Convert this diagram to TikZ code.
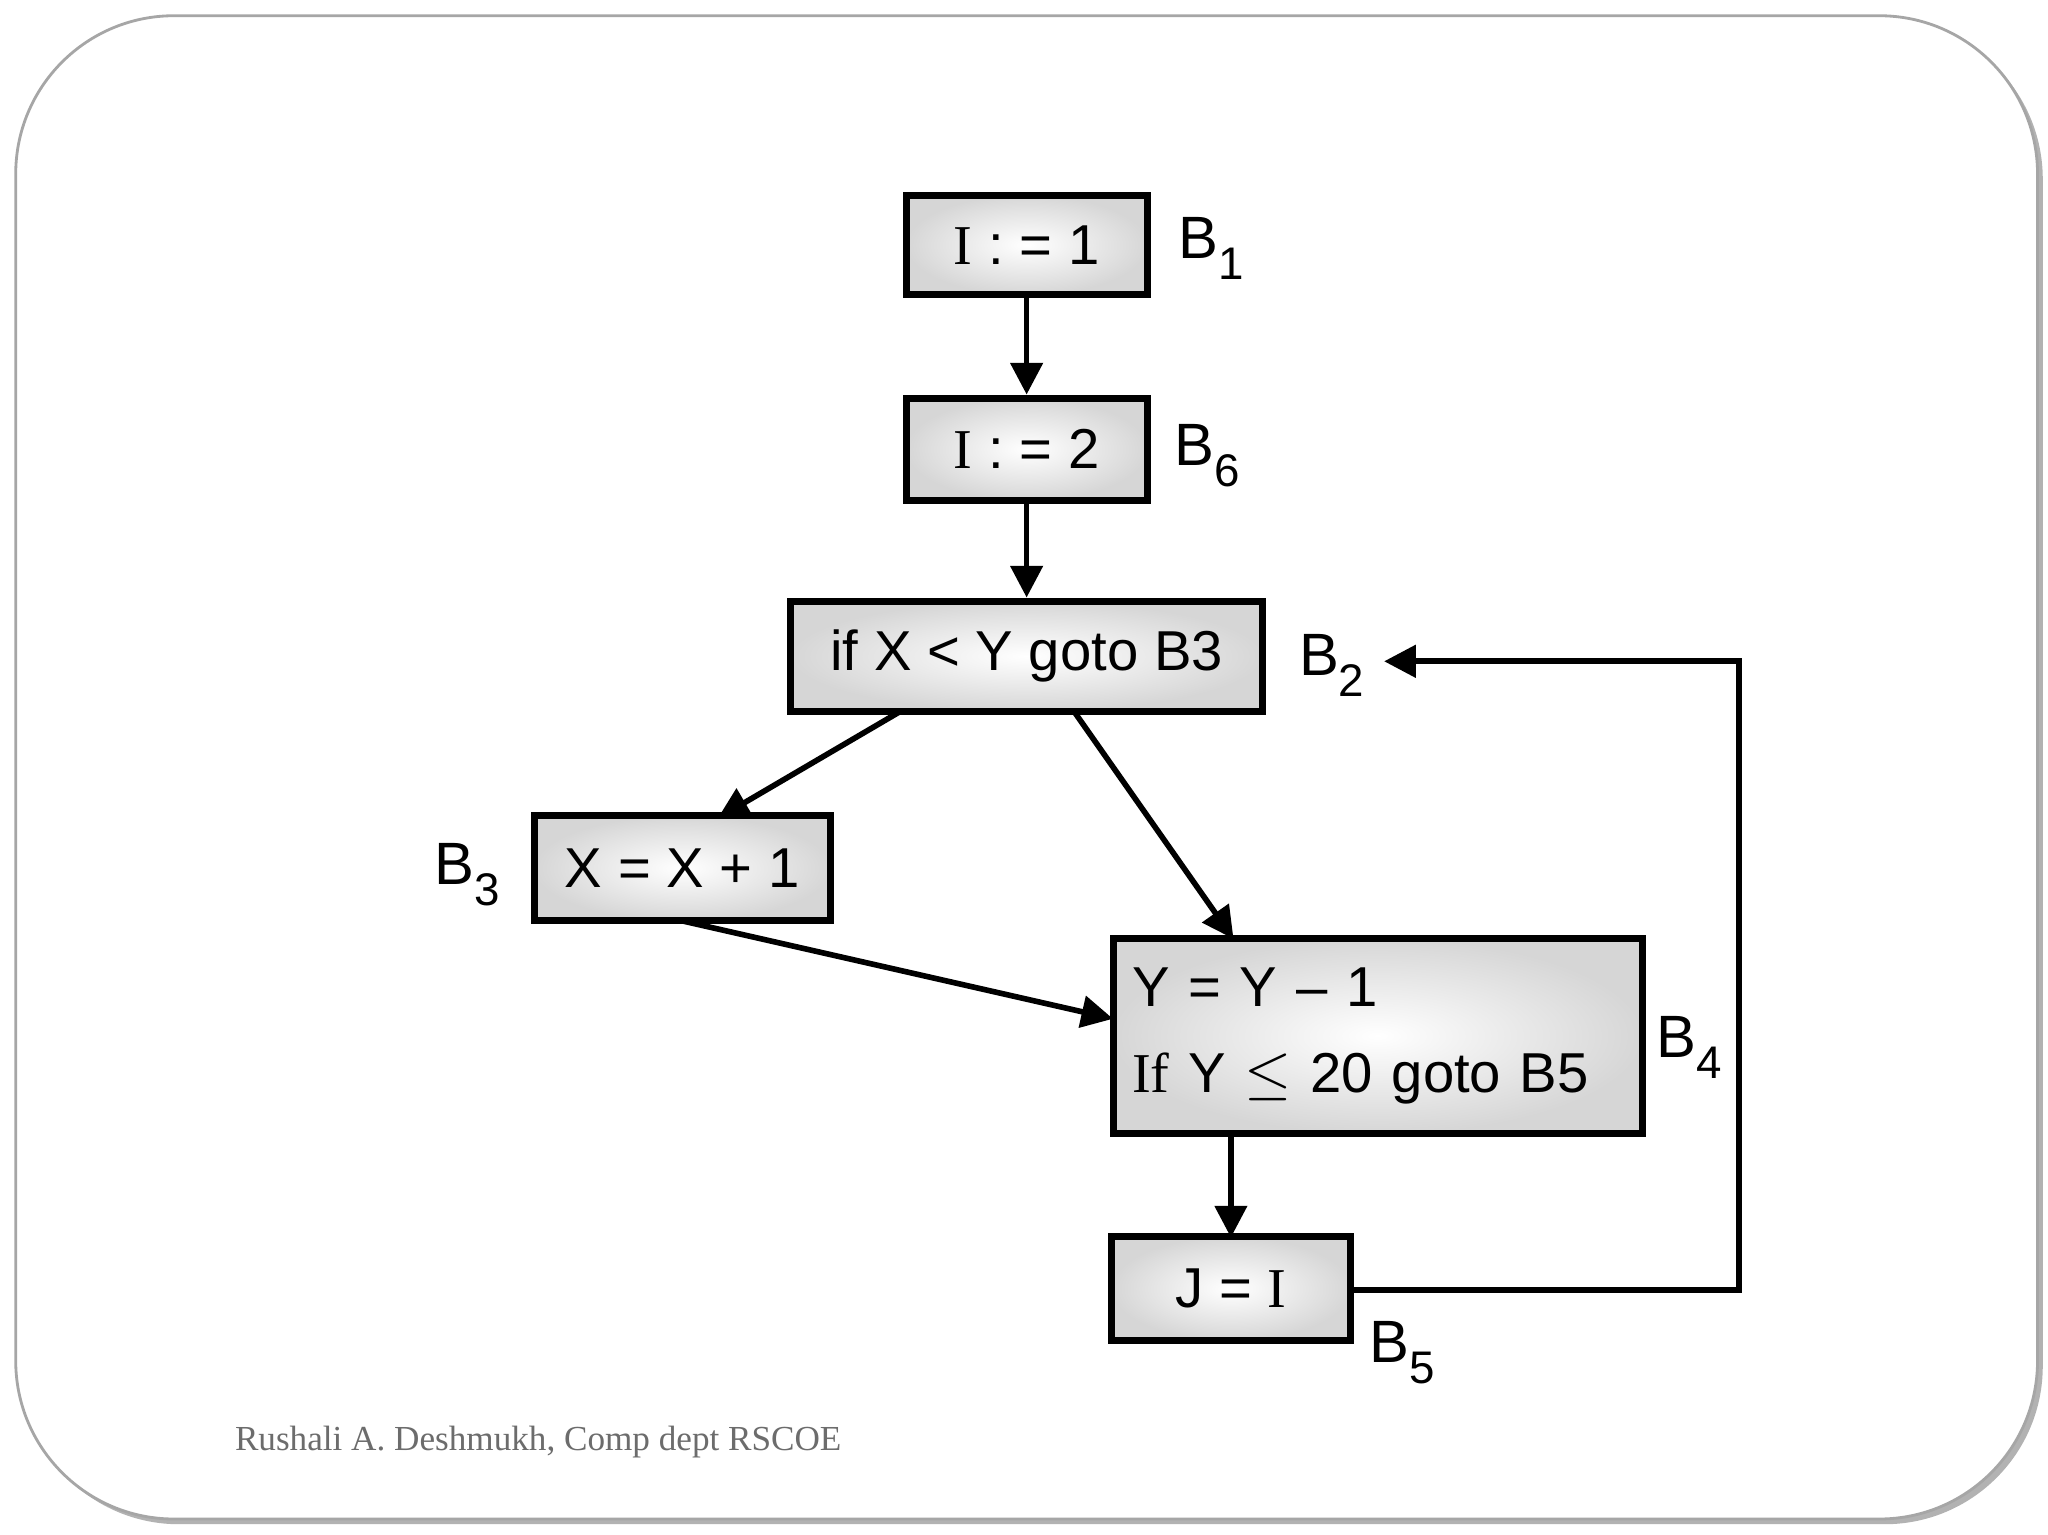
\documentclass[tikz,border=0pt]{standalone}
\usepackage{fontspec}
\setmainfont{Liberation Sans}
\newfontfamily\serifI{Liberation Serif}
\newfontfamily\footf{Liberation Serif}
\usetikzlibrary{arrows.meta}
\newcommand{\bsub}[1]{B\raisebox{-0.35em}{\fontsize{13}{15}\selectfont #1}}
\begin{document}
\begin{tikzpicture}[x=0.013095cm,y=-0.013095cm,
  blk/.style={draw=black,line width=2pt,inner color=white,outer color=gray!32,
    minimum width=#1,font=\fontsize{16}{19}\selectfont,inner sep=0pt},
  lab/.style={font=\fontsize{17}{20}\selectfont},
  arr/.style={line width=1.6pt,-{Triangle[length=9pt,width=9pt]}}]
\useasboundingbox (0,0) rectangle (1564,1172);
\fill[gray!60,rounded corners=45] (16,16) rectangle (1560,1164);
\draw[gray!70,line width=0.8pt,fill=white,rounded corners=45] (12,12) rectangle (1556,1160);
\node[blk=184*0.013095cm,minimum height=76*0.013095cm] (b1) at (784,187) {{\serifI I} : = 1};
\node[blk=184*0.013095cm,minimum height=78*0.013095cm] (b6) at (784,343) {{\serifI I} : = 2};
\node[blk=360*0.013095cm,minimum height=84*0.013095cm] (b2) at (784,501) {if X < Y goto B3};
\node[blk=226*0.013095cm,minimum height=80*0.013095cm] (b3) at (521,663) {X = X + 1};
\node[blk=404*0.013095cm,minimum height=149*0.013095cm,align=left,text width=375*0.013095cm] (b4) at (1052,791) {Y = Y -- 1\\[0.35em]{\serifI If} Y $\leq$ 20 goto B5};
\node[blk=182*0.013095cm,minimum height=79*0.013095cm] (b5) at (940,984) {J = {\serifI I}};
\node[lab] (l1) at (925,190) {\bsub{1}};
\node[lab] (l6) at (922,348) {\bsub{6}};
\node[lab] (l2) at (1017,508) {\bsub{2}};
\node[lab] (l3) at (357,668) {\bsub{3}};
\node[lab] (l4) at (1290,800) {\bsub{4}};
\node[lab] (l5) at (1071,1033) {\bsub{5}};
\node[anchor=west,text=gray!85!black,font=\footf\fontsize{10}{12}\selectfont] (ft) at (170,1101) {Rushali A. Deshmukh, Comp dept RSCOE};
\draw[arr] (b1.south) -- (b6.north);
\draw[arr] (b6.south) -- (b2.north);
\draw[arr] (688,543) -- (548,625);
\draw[arr] (820,543) -- (942,717);
\draw[arr] (520,703) -- (850,778);
\draw[arr] (940,866) -- (940,945);
\coordinate (c1) at (1328,985);
\coordinate (c2) at (1328,505);
\draw[arr] (b5.east |- c1) -- (c1) -- (c2) -- (1057,505);
\end{tikzpicture}
\end{document}
